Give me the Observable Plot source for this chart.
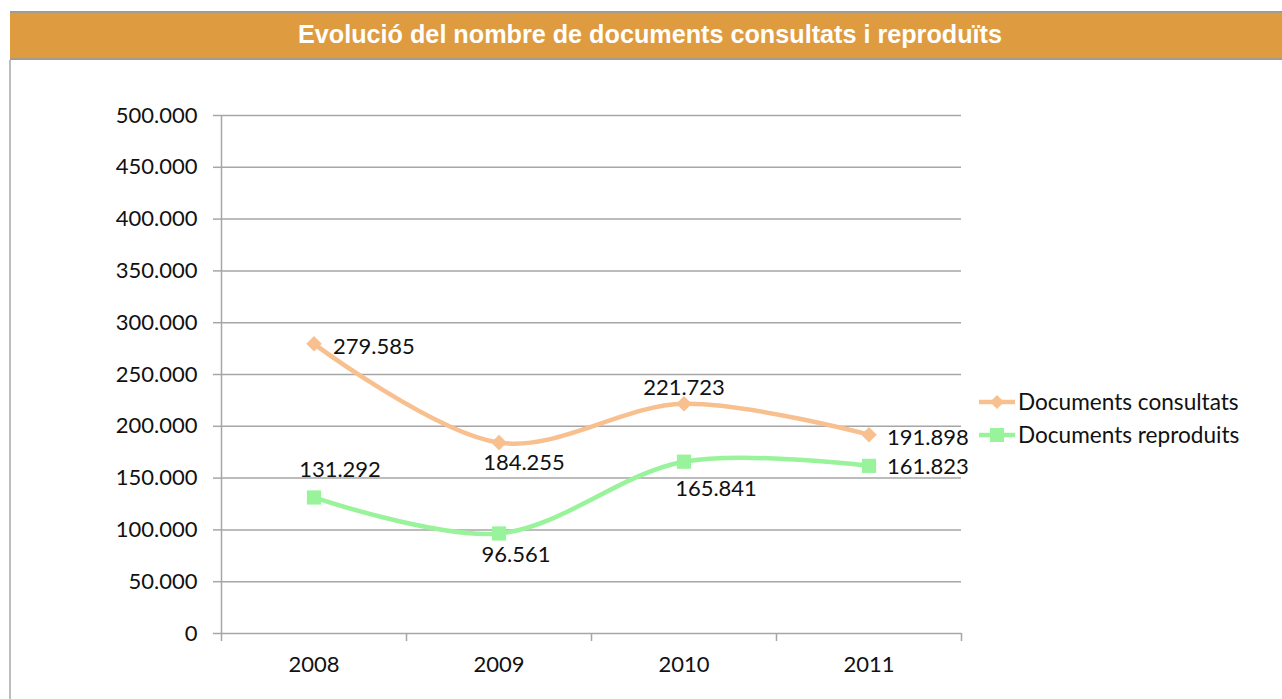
<!DOCTYPE html>
<html>
<head>
<meta charset="utf-8">
<script src="https://cdn.jsdelivr.net/npm/d3@7"></script>
<script src="https://cdn.jsdelivr.net/npm/@observablehq/plot@0.6"></script>
<style>
  html, body { margin: 0; padding: 0; background: #fff; overflow: hidden; }
  #page { position: relative; width: 1282px; height: 699px; }
  #title {
    position: absolute; left: 10px; top: 11px; width: 1290px; height: 45px;
    background: #DF9B3F; border-top: 2px solid #A39B8B; border-bottom: 2px solid #A39B8B;
    color: #fff; font: bold 25.2px "Liberation Sans", Arial, sans-serif;
    display: flex; align-items: center; justify-content: center;
    box-sizing: content-box;
  }
  #title span { position: relative; left: -5px; top: -1px; }
  #leftborder { position: absolute; left: 9px; top: 60px; width: 2px; height: 640px; background: #BDBDBD; }
  #chart { position: absolute; left: 0; top: 60px; }
  #legend { position: absolute; left: 978px; top: 385px; font: 22.6px Lato, "Open Sans", sans-serif; color: #111; }
  #legend div { display: flex; align-items: center; height: 33px; }
  #legend svg { margin-right: 2px; }
</style>
</head>
<body>
<div id="page">
  <div id="title"><span>Evolució del nombre de documents consultats i reproduïts</span></div>
  <div id="leftborder"></div>
  <div id="chart"></div>
  <div id="legend"></div>
</div>
<script>
// ---- Data ----
const years = ["2008", "2009", "2010", "2011"];
const consultats = [279585, 184255, 221723, 191898];
const reproduits = [131292, 96561, 165841, 161823];
const seriesNames = ["Documents consultats", "Documents reproduits"];
const yTicks = [0, 50000, 100000, 150000, 200000, 250000, 300000, 350000, 400000, 450000, 500000];

// ---- Styling ----
const colors = {"Documents consultats": "#F8BF8F", "Documents reproduits": "#98F39A"};
const symbols = {"Documents consultats": "diamond2", "Documents reproduits": "square"};
const radii = {"Documents consultats": 7, "Documents reproduits": 8};
const font = 'Lato, "Open Sans", sans-serif';
const fs = 22;

const rows = [];
years.forEach((y, i) => {
  rows.push({series: seriesNames[0], year: y, pos: i + 0.5, value: consultats[i]});
  rows.push({series: seriesNames[1], year: y, pos: i + 0.5, value: reproduits[i]});
});

const loc = d3.formatLocale({decimal: ",", thousands: ".", grouping: [3], currency: ["", ""]});
const fmt = loc.format(",");

// label placement (styling, not data)
const place = {
  "Documents consultats|2008": {dx: 19, dy: 3, anchor: "start"},
  "Documents consultats|2009": {dx: 25, dy: 20, anchor: "middle"},
  "Documents consultats|2010": {dx: 0, dy: -16, anchor: "middle"},
  "Documents consultats|2011": {dx: 18, dy: 3, anchor: "start"},
  "Documents reproduits|2008": {dx: 26, dy: -28, anchor: "middle"},
  "Documents reproduits|2009": {dx: 17, dy: 21, anchor: "middle"},
  "Documents reproduits|2010": {dx: 32, dy: 27, anchor: "middle"},
  "Documents reproduits|2011": {dx: 18, dy: 1, anchor: "start"}
};
const labelMarks = Object.entries(place).map(([k, p]) => {
  const [s, y] = k.split("|");
  return Plot.text(rows.filter(d => d.series === s && d.year === y), {
    x: "pos", y: "value", text: d => fmt(d.value),
    dx: p.dx, dy: p.dy, textAnchor: p.anchor,
    fill: "#111", fontSize: fs, fontFamily: font
  });
});

const seriesMarks = seriesNames.flatMap(s => {
  const data = rows.filter(d => d.series === s);
  return [
    Plot.line(data, {x: "pos", y: "value", stroke: colors[s], strokeWidth: 4.5, curve: "catmull-rom"}),
    Plot.dot(data, {x: "pos", y: "value", symbol: symbols[s], fill: colors[s], stroke: "none", r: radii[s]})
  ];
});

const chart = Plot.plot({
  width: 1282,
  height: 639,
  marginLeft: 221,
  marginRight: 321,
  marginTop: 55,
  marginBottom: 66,
  style: {fontFamily: font, background: "transparent", overflow: "visible"},
  x: {domain: [0, 4], axis: null, label: null},
  y: {domain: [0, 500000], axis: null, label: null},
  marks: [
    Plot.ruleY(yTicks.slice(1), {stroke: "#A6A6A6", strokeWidth: 1.5}),
    Plot.ruleY([0], {stroke: "#A6A6A6", strokeWidth: 1.5}),
    Plot.ruleX([0], {stroke: "#A6A6A6", strokeWidth: 1.5}),
    Plot.axisY({ticks: yTicks, tickFormat: fmt, label: null, tickSize: 8, tickPadding: 16, fontSize: fs, stroke: "#A6A6A6", strokeWidth: 1.5, fill: "#111", fontFamily: font}),
    Plot.axisX({ticks: [0, 1, 2, 3, 4], tickFormat: () => "", label: null, tickSize: 8, stroke: "#A6A6A6", strokeWidth: 1.5}),
    Plot.axisX({ticks: years.map((y, i) => i + 0.5), tickFormat: d => years[Math.floor(d)], label: null, tickSize: 0, tickPadding: 23, fontSize: fs, fill: "#111", fontFamily: font}),
    ...seriesMarks,
    ...labelMarks
  ]
});
document.getElementById("chart").appendChild(chart);

// legend
const legend = d3.select("#legend");
seriesNames.forEach(s => {
  const row = legend.append("div");
  const sv = row.append("svg").attr("width", 38).attr("height", 20);
  sv.append("line").attr("x1", 1).attr("x2", 37).attr("y1", 10).attr("y2", 10)
    .attr("stroke", colors[s]).attr("stroke-width", 4.5);
  if (symbols[s] === "square") {
    sv.append("rect").attr("x", 12).attr("y", 3).attr("width", 14).attr("height", 14).attr("fill", colors[s]);
  } else {
    sv.append("path").attr("d", "M19,3L26,10L19,17L12,10Z").attr("fill", colors[s]);
  }
  row.append("span").text(s);
});
</script>
</body>
</html>
